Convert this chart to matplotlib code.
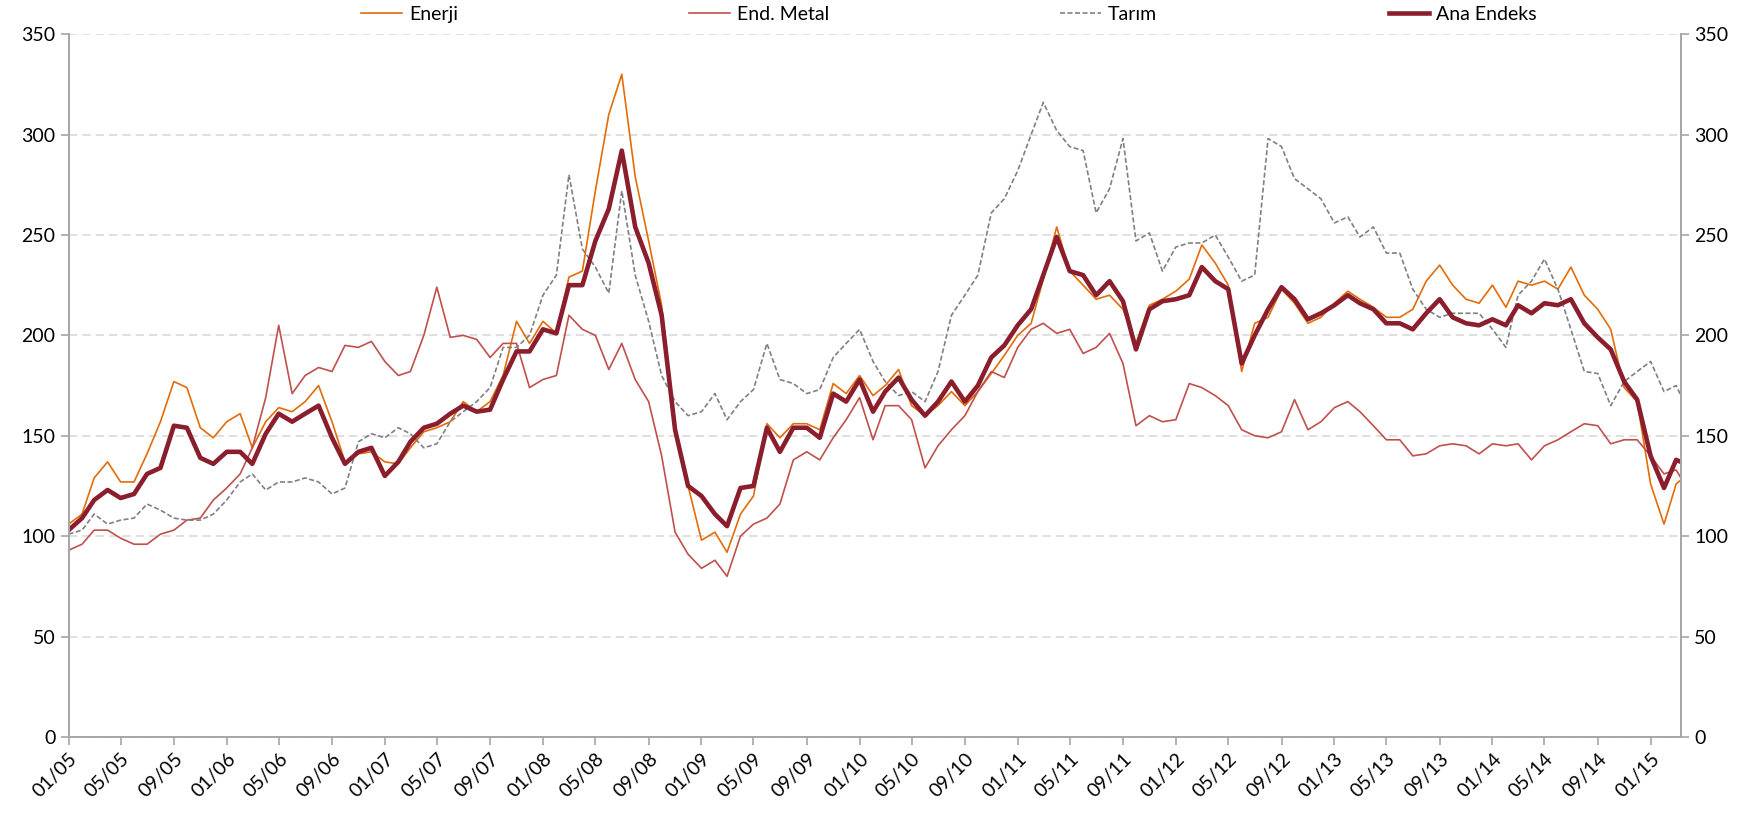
import numpy as np
import pandas as pd
import matplotlib
matplotlib.use("Agg")
import matplotlib.pyplot as plt
import matplotlib.dates as mdates

plt.rcParams['font.family'] = ['Lato', 'DejaVu Sans']

# monthly readings, Jan 2005 .. Mar 2015, plus last day shown
dates = list(pd.date_range('2005-01-01', '2015-03-01', freq='MS')) + [pd.Timestamp('2015-03-12')]

enerji = [106, 111, 129, 137, 127, 127, 141, 157, 177, 174, 154, 149,
          157, 161, 144, 157, 164, 162, 167, 175, 157, 137, 141, 142,
          137, 136, 144, 152, 154, 157, 167, 162, 167, 180, 207, 196,
          207, 201, 229, 232, 272, 310, 330, 279, 247, 215, 153, 125,
          98, 102, 92, 111, 120, 156, 149, 156, 156, 153, 176, 171,
          180, 170, 175, 183, 165, 160, 165, 172, 165, 172, 181, 190,
          200, 206, 228, 254, 232, 225, 218, 220, 213, 196, 215, 218,
          222, 228, 245, 236, 225, 182, 206, 209, 223, 216, 206, 209,
          216, 222, 218, 214, 209, 209, 213, 227, 235, 225, 218, 216,
          225, 214, 227, 225, 227, 223, 234, 220, 213, 203, 174, 167,
          126, 106, 126, 128]

metal = [93, 96, 103, 103, 99, 96, 96, 101, 103, 108, 109, 118,
         124, 131, 144, 169, 205, 171, 180, 184, 182, 195, 194, 197,
         187, 180, 182, 200, 224, 199, 200, 198, 189, 196, 196, 174,
         178, 180, 210, 203, 200, 183, 196, 178, 167, 140, 102, 91,
         84, 88, 80, 100, 106, 109, 116, 138, 142, 138, 149, 158,
         169, 148, 165, 165, 158, 134, 145, 153, 160, 172, 182, 179,
         194, 203, 206, 201, 203, 191, 194, 201, 186, 155, 160, 157,
         158, 176, 174, 170, 165, 153, 150, 149, 152, 168, 153, 157,
         164, 167, 162, 155, 148, 148, 140, 141, 145, 146, 145, 141,
         146, 145, 146, 138, 145, 148, 152, 156, 155, 146, 148, 148,
         140, 131, 133, 129]

tarim = [101, 103, 111, 106, 108, 109, 116, 113, 109, 108, 108, 111,
         118, 127, 131, 123, 127, 127, 129, 127, 121, 124, 147, 151,
         149, 154, 151, 144, 146, 157, 162, 167, 174, 194, 194, 200,
         220, 230, 280, 243, 234, 221, 272, 230, 207, 180, 167, 160,
         162, 171, 158, 167, 173, 196, 178, 176, 171, 173, 189, 196,
         203, 187, 177, 170, 172, 167, 182, 210, 220, 230, 261, 268,
         282, 300, 316, 302, 294, 292, 261, 273, 298, 247, 251, 232,
         244, 246, 246, 250, 239, 227, 230, 298, 294, 278, 273, 268,
         256, 259, 249, 254, 241, 241, 223, 213, 209, 211, 211, 211,
         203, 194, 220, 227, 238, 223, 203, 182, 181, 165, 177, 182,
         187, 172, 175, 170]

ana = [103, 109, 118, 123, 119, 121, 131, 134, 155, 154, 139, 136,
       142, 142, 136, 151, 161, 157, 161, 165, 149, 136, 142, 144,
       130, 137, 147, 154, 156, 161, 165, 162, 163, 178, 192, 192,
       203, 201, 225, 225, 247, 263, 292, 254, 236, 210, 153, 125,
       120, 111, 105, 124, 125, 154, 142, 154, 154, 149, 171, 167,
       178, 162, 172, 179, 168, 160, 167, 177, 167, 175, 189, 195,
       205, 213, 230, 249, 232, 230, 220, 227, 217, 193, 213, 217,
       218, 220, 234, 227, 223, 186, 200, 213, 224, 218, 208, 211,
       215, 220, 216, 213, 206, 206, 203, 211, 218, 209, 206, 205,
       208, 205, 215, 211, 216, 215, 218, 206, 199, 193, 177, 168,
       140, 124, 138, 137]

labels = ['Enerji', 'End. Metal', 'Tarım', 'Ana Endeks']

fig = plt.figure(figsize=(17.64, 8.13), dpi=100)
ax = fig.add_axes([0.0389, 0.0935, 0.914, 0.8645])

ax.plot(dates, enerji, color='#E36C09', lw=1.2, label=labels[0])
ax.plot(dates, metal, color='#C0504D', lw=1.2, label=labels[1])
ax.plot(dates, tarim, color='#808080', lw=1.2, ls=(0, (3, 1.5)), label=labels[2])
ax.plot(dates, ana, color='#8B1E2D', lw=3.3, label=labels[3])

ax.set_ylim(0, 350)
ax.set_yticks(range(0, 351, 50))
ax.set_xlim(pd.Timestamp('2005-01-01'), pd.Timestamp('2015-03-12'))
ax.xaxis.set_major_locator(mdates.MonthLocator(bymonth=[1, 5, 9]))
ax.xaxis.set_major_formatter(mdates.DateFormatter('%m/%y'))
ax.grid(axis='y', color='#D9D9D9', ls=(0, (5, 3)), lw=1.2)
ax.set_axisbelow(True)

ax.spines['top'].set_visible(False)
for s in ['left', 'right', 'bottom']:
    ax.spines[s].set_color('#A6A6A6')
    ax.spines[s].set_linewidth(1.2)

ax.tick_params(axis='both', colors='#A6A6A6', labelcolor='black', labelsize=14, length=6, width=1.2)
plt.setp(ax.get_xticklabels(), rotation=45, ha='right', rotation_mode='anchor')

ax2 = ax.twinx()
ax2.set_ylim(0, 350)
ax2.set_yticks(range(0, 351, 50))
ax2.spines['top'].set_visible(False)
for s in ['left', 'right', 'bottom']:
    ax2.spines[s].set_color('#A6A6A6')
    ax2.spines[s].set_linewidth(1.2)
ax2.tick_params(axis='y', colors='#A6A6A6', labelcolor='black', labelsize=14, length=6, width=1.2)

fig.legend(loc='center', bbox_to_anchor=(0.538, 0.982), ncol=4, frameon=False,
           fontsize=14, handlelength=2.1, handletextpad=0.35, columnspacing=11.9)

fig.savefig('out.png', dpi=100)
